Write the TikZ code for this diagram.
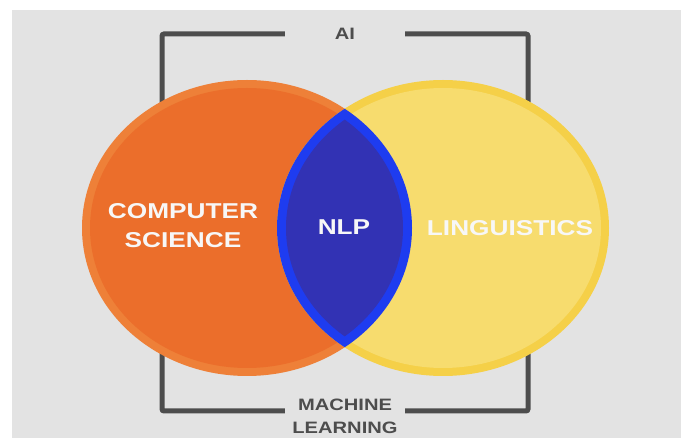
\documentclass[tikz,border=0pt]{standalone}
\usepackage{fontspec}
\newfontfamily\vennfont{Liberation Sans}[FakeStretch=1.22]
\definecolor{bggray}{HTML}{E3E3E3}
\definecolor{bracketgray}{HTML}{4D4D4D}
\definecolor{csring}{HTML}{EE8038}
\definecolor{csorange}{HTML}{EB6E2B}
\definecolor{lingring}{HTML}{F5D048}
\definecolor{lingyellow}{HTML}{F7DC6E}
\definecolor{nlpblue}{HTML}{1E3CF0}
\definecolor{nlpdark}{HTML}{3232B4}
\begin{document}
\begin{tikzpicture}[x=1pt,y=-1pt,
  bracket/.style={draw=bracketgray, line width=5pt, rounded corners=2pt},
  setlabel/.style={text=white!97!black, font=\vennfont\bfseries\fontsize{21.5}{29}\selectfont, align=center, inner sep=0pt},
  outlabel/.style={text=bracketgray, font=\vennfont\bfseries\fontsize{16.5}{23}\selectfont, align=center, inner sep=0pt, minimum width=120pt}]
\useasboundingbox (0,0) rectangle (686,438);
\fill[bggray] (12,10) rectangle (681,438);
\node[outlabel] (ai) at (345,34) {AI};
\node[outlabel] (ml) at (345,416.5) {MACHINE\\LEARNING};
\coordinate (tl) at (162,34);
\coordinate (tr) at (528,34);
\coordinate (bl) at (162,411);
\coordinate (br) at (528,411);
\draw[bracket] (ai.west) -- (tl) -- (bl) -- (bl -| ml.west);
\draw[bracket] (ai.east) -- (tr) -- (br) -- (br -| ml.east);
\coordinate (cs) at (247,228);
\coordinate (ling) at (443,228);
\fill[csring] (cs) ellipse [x radius=165pt, y radius=148pt];
\fill[csorange] (cs) ellipse [x radius=157pt, y radius=140pt];
\fill[lingring] (ling) ellipse [x radius=166pt, y radius=148pt];
\fill[lingyellow] (ling) ellipse [x radius=158pt, y radius=140pt];
\begin{scope}
  \clip (cs) ellipse [x radius=165pt, y radius=148pt];
  \fill[nlpblue] (ling) ellipse [x radius=166pt, y radius=148pt];
  \clip (cs) ellipse [x radius=156pt, y radius=139pt];
  \fill[nlpdark] (ling) ellipse [x radius=157pt, y radius=139pt];
\end{scope}
\node[setlabel] (cstext) at (183,226) {COMPUTER\\SCIENCE};
\node[setlabel] (nlp) at (344,227) {NLP};
\node[setlabel] (lingtext) at (510,228) {LINGUISTICS};
\end{tikzpicture}
\end{document}
